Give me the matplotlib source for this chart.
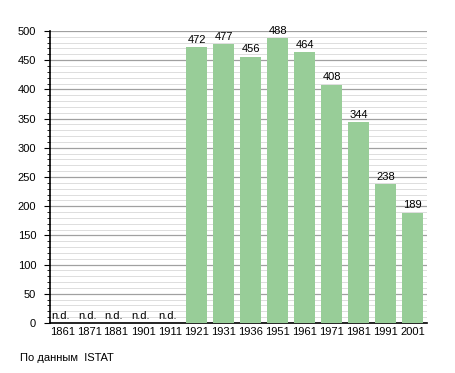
import matplotlib.pyplot as plt
from matplotlib.ticker import MultipleLocator

years = ['1861', '1871', '1881', '1901', '1911', '1921', '1931', '1936',
         '1951', '1961', '1971', '1981', '1991', '2001']
population = [None, None, None, None, None, 472, 477, 456, 488, 464, 408, 344, 238, 189]

plt.rcParams['font.family'] = ['Liberation Sans', 'DejaVu Sans']
fs = 8

fig = plt.figure(figsize=(4.55, 3.73), dpi=100)
ax = fig.add_axes([0.110, 0.134, 0.829, 0.783])

pos = list(range(len(years)))
for i, v in zip(pos, population):
    if v is None:
        ax.text(i - 0.42, 3, 'n.d.', fontsize=fs, ha='left', va='bottom')
    else:
        ax.bar(i, v, width=0.78, color='#98cd98', zorder=3)
        ax.text(i, v + 4, str(v), fontsize=fs, ha='center', va='bottom', zorder=4)

ax.set_xlim(-0.45, 13.55)
ax.set_ylim(0, 500)
ax.set_xticks(pos)
ax.set_xticklabels(years, fontsize=fs)
ax.tick_params(axis='x', length=0, pad=3)
ax.yaxis.set_major_locator(MultipleLocator(50))
ax.yaxis.set_minor_locator(MultipleLocator(10))
ax.tick_params(axis='y', which='major', length=4, labelsize=fs, pad=6)
ax.tick_params(axis='y', which='minor', length=2)
ax.grid(axis='y', which='major', color='#a0a0a0', linewidth=0.9, zorder=0)
ax.grid(axis='y', which='minor', color='#dddddd', linewidth=0.7, zorder=0)
ax.set_axisbelow(True)
for s in ['top', 'right']:
    ax.spines[s].set_visible(False)
ax.spines['left'].set_linewidth(1.2)
ax.spines['bottom'].set_linewidth(1.2)

fig.text(0.044, 0.032, 'По данным  ISTAT', fontsize=fs)

fig.savefig('out.png', dpi=100)
